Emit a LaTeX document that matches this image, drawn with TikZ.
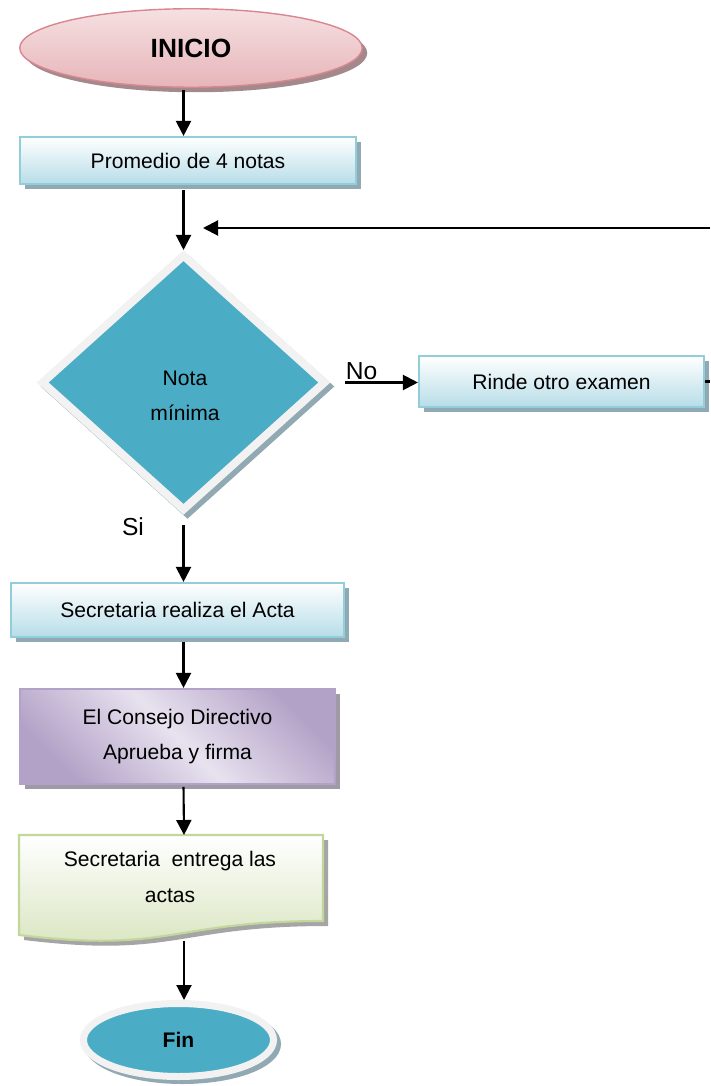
\documentclass[tikz,border=0pt]{standalone}
\usepackage{fontspec}
\setmainfont{Liberation Sans}
\usetikzlibrary{shapes.geometric,shadows,arrows.meta}
\definecolor{iniciotop}{HTML}{F6E0E2}
\definecolor{iniciobajo}{HTML}{E6B5B9}
\definecolor{inicioborde}{HTML}{D8878E}
\definecolor{iniciosombra}{HTML}{A3898B}
\definecolor{cajafondo}{HTML}{B7DDE8}
\definecolor{cajaborde}{HTML}{92CDDC}
\definecolor{sombra}{HTML}{91A9B3}
\definecolor{turquesa}{HTML}{4BACC6}
\definecolor{blanco}{HTML}{F2F2F2}
\definecolor{morado}{HTML}{B3A2C7}
\definecolor{moradoclaro}{HTML}{E8E2EF}
\definecolor{moradosombra}{HTML}{9F9AA5}
\definecolor{verdefondo}{HTML}{D7E4BD}
\definecolor{verdeborde}{HTML}{C3D69B}
\definecolor{verdesombra}{HTML}{A5A5A5}
\begin{document}
\begin{tikzpicture}
  [base/.style={font=\fontsize{12}{20}\selectfont, align=center, inner sep=2pt},
   flecha/.style={-{Triangle[length=0.3cm,width=0.3cm]}, line width=1.2pt},
   linea/.style={line width=1.2pt},
   etiqueta/.style={font=\fontsize{14}{16}\selectfont, inner sep=1pt},
   inicio node/.style={ellipse, draw=inicioborde, line width=0.8pt,
     top color=iniciotop, bottom color=iniciobajo,
     font=\fontsize{15}{18}\selectfont\bfseries,
     drop shadow={shadow xshift=0.1cm, shadow yshift=-0.1cm, fill=iniciosombra, opacity=1}},
   blue box/.style={base, rectangle, draw=cajaborde, line width=1.2pt,
     top color=white, bottom color=cajafondo,
     drop shadow={shadow xshift=0.1cm, shadow yshift=-0.1cm, fill=sombra, opacity=1}},
   purple box/.style={base, rectangle, draw=morado, line width=1.2pt,
     top color=morado, bottom color=morado, middle color=moradoclaro, shading angle=-45,
     drop shadow={shadow xshift=0.1cm, shadow yshift=-0.1cm, fill=moradosombra, opacity=1}},
   doc shape/.style={draw=verdeborde, line width=1.2pt,
     top color=white, bottom color=verdefondo,
     drop shadow={shadow xshift=0.1cm, shadow yshift=-0.1cm, fill=verdesombra, opacity=1}},
   decision/.style={diamond, draw=blanco, line width=0.16cm, fill=turquesa,
     drop shadow={shadow xshift=0.08cm, shadow yshift=-0.08cm, fill=sombra, draw=sombra, line width=0.16cm, opacity=1}},
   fin node/.style={ellipse, draw=blanco, line width=0.14cm, fill=turquesa,
     font=\fontsize{12}{14}\selectfont\bfseries,
     drop shadow={shadow xshift=0.08cm, shadow yshift=-0.08cm, fill=sombra, draw=sombra, line width=0.14cm, opacity=1}}]
  \useasboundingbox (0,0) rectangle (14.2,-21.72);

  % shapes
  \node[inicio node, minimum width=6.85cm, minimum height=1.57cm] (inicio) at (3.82,-0.96) {INICIO};
  \node[blue box, minimum width=6.72cm, minimum height=0.94cm] (promedio) at (3.76,-3.21) {Promedio de 4 notas};
  \node[decision, minimum width=5.7cm, minimum height=5.14cm] (nota) at (3.67,-7.65) {};
  \node[base] (nota txt) at (3.70,-7.91) {Nota\\mínima};
  \node[blue box, minimum width=5.70cm, minimum height=1.02cm] (rinde) at (11.23,-7.63) {Rinde otro examen};
  \node[blue box, minimum width=6.66cm, minimum height=1.08cm] (realiza) at (3.55,-12.2) {Secretaria realiza el Acta};
  \node[purple box, minimum width=6.3cm, minimum height=1.9cm] (consejo) at (3.55,-14.73) {El Consejo Directivo\\Aprueba y firma};
  \path[doc shape] (0.38,-16.7) -- (6.46,-16.7) -- (6.46,-18.42)
    .. controls (3.42,-18.42) and (3.42,-19.07) .. (0.38,-18.70) -- cycle;
  \node[base] (entrega) at (3.40,-17.54) {Secretaria\ \ entrega las\\actas};
  \node[fin node, minimum width=3.8cm, minimum height=1.46cm] (fin) at (3.57,-20.8) {Fin};
  \node[etiqueta] (si) at (2.66,-10.54) {Si};

  \coordinate (retorno) at (14.2,-4.56);
  \coordinate (reingreso) at (4.06,-4.56);
  \coordinate (entrega norte) at (3.68,-16.7);
  \coordinate (entrega sur) at (3.68,-18.82);

  % connectors
  \draw[flecha, shorten <=1pt] (inicio.south -| nota) -- (promedio.north -| nota);
  \draw[flecha, shorten <=0.1cm] (promedio.south -| nota) -- (nota.north);
  \draw[flecha] (retorno) -- (reingreso);
  \draw[flecha, shorten <=0.3cm] (nota.east) -- node[etiqueta, above, pos=0.36] {No} (nota.east -| rinde.west);
  \draw[linea] (rinde.east) -- (rinde.east -| retorno);
  \draw[flecha, shorten <=0.2cm] (nota.south) -- (realiza.north -| nota);
  \draw[flecha, shorten <=2pt] (realiza.south -| nota) -- (consejo.north -| nota);
  \draw[flecha, shorten <=1pt] (consejo.south -| nota) -- (entrega norte);
  \draw[flecha] (entrega sur) -- (entrega sur |- fin.north);
\end{tikzpicture}
\end{document}
